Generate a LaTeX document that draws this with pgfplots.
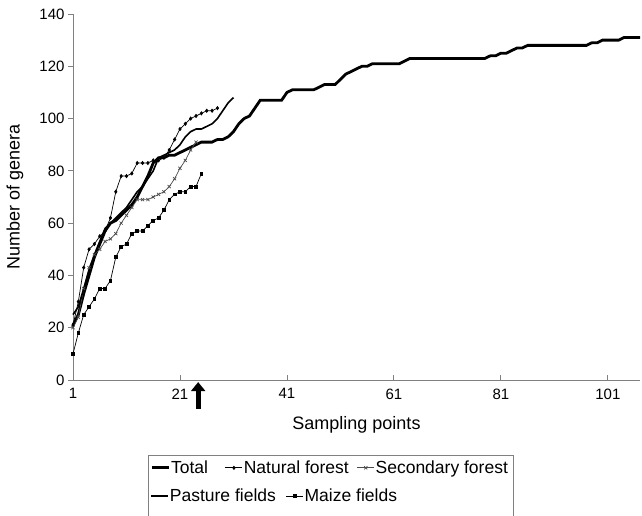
\documentclass[border=0pt]{standalone}
\usepackage{fontspec}
\setmainfont{Liberation Sans}
\usepackage{pgfplots}
\pgfplotsset{compat=1.18}
\usetikzlibrary{arrows.meta}

% sampling point, number of genera
\pgfplotstableread{
x y
1 21
2 25
3 33
4 40
5 47
6 52
7 57
8 60
9 61
10 63
11 65
12 67
13 70
14 74
15 78
16 83
17 85
18 85
19 86
20 86
21 87
22 88
23 89
24 90
25 91
26 91
27 91
28 92
29 92
30 93
31 95
32 98
33 100
34 101
35 104
36 107
37 107
38 107
39 107
40 107
41 110
42 111
43 111
44 111
45 111
46 111
47 112
48 113
49 113
50 113
51 115
52 117
53 118
54 119
55 120
56 120
57 121
58 121
59 121
60 121
61 121
62 121
63 122
64 123
65 123
66 123
67 123
68 123
69 123
70 123
71 123
72 123
73 123
74 123
75 123
76 123
77 123
78 123
79 124
80 124
81 125
82 125
83 126
84 127
85 127
86 128
87 128
88 128
89 128
90 128
91 128
92 128
93 128
94 128
95 128
96 128
97 128
98 129
99 129
100 130
101 130
102 130
103 130
104 131
105 131
106 131
107 131
}\total

\pgfplotstableread{
x y
1 21
2 30
3 43
4 50
5 52
6 55
7 57
8 62
9 72
10 78
11 78
12 79
13 83
14 83
15 83
16 84
17 84
18 85
19 88
20 92
21 96
22 98
23 100
24 101
25 102
26 103
27 103
28 104
}\natural

\pgfplotstableread{
x y
1 20
2 24
3 35
4 43
5 48
6 50
7 53
8 54
9 56
10 60
11 63
12 66
13 69
14 69
15 69
16 70
17 71
18 72
19 74
20 77
21 81
22 84
23 88
24 91
}\secondary

\pgfplotstableread{
x y
1 25
2 28
3 35
4 42
5 48
6 53
7 58
8 60
9 62
10 64
11 66
12 69
13 72
14 74
15 77
16 80
17 85
18 86
19 87
20 88
21 90
22 93
23 95
24 96
25 96
26 97
27 98
28 100
29 103
30 106
31 108
}\pasture

\pgfplotstableread{
x y
1 10
2 18
3 25
4 28
5 31
6 35
7 35
8 38
9 47
10 51
11 52
12 56
13 57
14 57
15 59
16 61
17 62
18 65
19 69
20 71
21 72
22 72
23 74
24 74
25 79
}\maize

\definecolor{axisgray}{RGB}{128,128,128}

\begin{document}
\begin{tikzpicture}
\useasboundingbox (0pt,0pt) rectangle (642pt,515pt);
\begin{axis}[
  at={(73pt,135pt)}, anchor=south west,
  width=567pt, height=366pt, scale only axis,
  xmin=1, xmax=107, ymin=0, ymax=140,
  axis lines*=left,
  axis line style={axisgray, line width=0.9pt},
  xtick={1,21,41,61,81,101},
  ytick={0,20,...,140},
  tick align=outside,
  major tick length=5pt,
  tick style={axisgray, line width=0.9pt},
  xtick style={yshift=5pt},
  ticklabel style={font=\fontsize{15}{18}\selectfont},
  /pgf/number format/assume math mode=true,
  xlabel={Sampling points},
  ylabel={Number of genera},
  label style={font=\fontsize{18}{21}\selectfont},
  xlabel style={at={(axis description cs:0.5,-0.123)}, anchor=center},
  ylabel style={at={(axis description cs:-0.1023,0.5)}, anchor=center},
  clip=false,
  legend columns=-1,
  legend style={draw=none, fill=none, inner sep=0pt,
    at={(0.1358,-0.240)}, anchor=west,
    font=\fontsize{17.5}{20}\selectfont,
    /tikz/column 2/.style={column sep=16pt},
    /tikz/column 4/.style={column sep=7pt},
    nodes={inner sep=1pt}},
]
\addplot[black, line width=2.8pt] table {\total};
\addplot[black, line width=0.7pt, mark=diamond*, mark size=1.6pt] table {\natural};
\addplot[black!70, line width=0.7pt, mark=x, mark size=2.2pt] table {\secondary};
\addplot[black, line width=1.6pt] table {\pasture};
\addplot[black, line width=0.7pt, mark=square*, mark size=1.4pt] table {\maize};
\legend{Total, Natural forest, Secondary forest}

% arrow below the axis
\draw[black, line width=5pt, -{Triangle[width=14pt,length=9pt]}]
  (axis cs:24.4,-11) -- (axis cs:24.4,-0.8);
\end{axis}

% second legend row
\begin{axis}[
  at={(73pt,135pt)}, anchor=south west,
  width=567pt, height=366pt, scale only axis,
  hide axis, xmin=0, xmax=1, ymin=0, ymax=1,
  legend columns=-1,
  legend style={draw=none, fill=none, inner sep=0pt,
    at={(0.1358,-0.317)}, anchor=west,
    font=\fontsize{17.5}{20}\selectfont,
    /tikz/column 2/.style={column sep=9pt},
    nodes={inner sep=1pt}},
]
\addlegendimage{black, line width=1.6pt}
\addlegendentry{Pasture fields}
\addlegendimage{black, line width=0.7pt, mark=square*, mark size=1.4pt}
\addlegendentry{Maize fields}
\end{axis}

\draw[axisgray, line width=0.9pt] (148pt,60pt) rectangle (513pt,-5pt);
\end{tikzpicture}
\end{document}
